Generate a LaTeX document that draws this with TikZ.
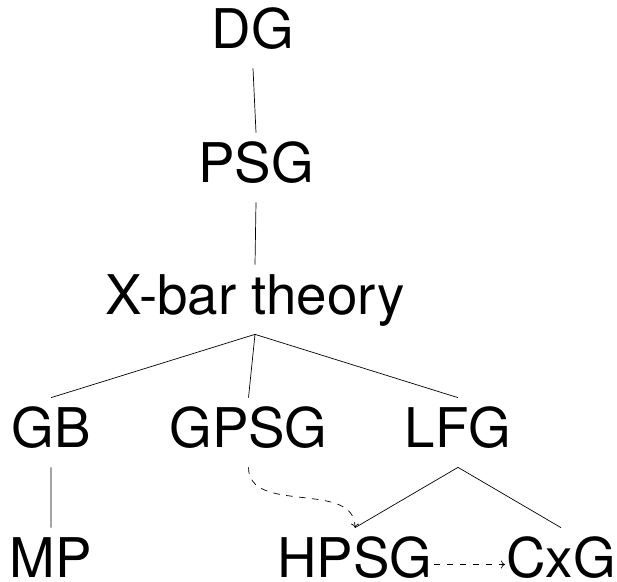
\documentclass[tikz,border=0pt]{standalone}
\usepackage{fontspec}
\setmainfont{TeX Gyre Heros}
\usetikzlibrary{arrows.meta}
\tikzset{>={To[length=4pt, width=8pt]},
every node/.style={font=\fontsize{54.7}{60}\selectfont, anchor=base,
  inner sep=0pt, inner xsep=1pt, text height=49pt, text depth=20pt},
leaf/.style={text depth=0pt},
link/.style={->, dash pattern=on 6.5pt off 6.5pt},
}

\begin{document}
\begin{tikzpicture}[line width=0.7pt]
    \useasboundingbox (-253pt,48pt) rectangle (364pt,-533pt);
    \node (DG) {DG};
    \node[yshift=-134pt, xshift=3pt] (PSG) {PSG};
    \node[yshift=-266pt, xshift=2pt] (XB) {X-bar theory};
    \node[yshift=-399pt, xshift=-202pt] (GB) {GB};
    \node[yshift=-399pt, xshift=-4.5pt] (GPSG) {GPSG};
    \node[yshift=-399pt, xshift=205pt] (LFG) {LFG};
    \node[leaf, yshift=-529pt, xshift=-202pt] (MP) {MP};
    \node[leaf, yshift=-529pt, xshift=102pt] (HPSG) {HPSG};
    \node[leaf, yshift=-529pt, xshift=308pt] (CxG) {CxG};
    \draw
        (DG.south) -- (PSG.north)
        (PSG.south) -- (XB.north)
        (XB.south) -- (GB.north)
        (XB.south) -- (GPSG.north)
        (XB.south) -- (LFG.north)
        (GB.south) -- (MP.north)
        (LFG.south) -- (HPSG.north)
        (LFG.south) -- (CxG.north)
    ;
    \draw[link] (GPSG.south) to[out=-90, in=90] (HPSG.north);
    \draw[link] ([yshift=-12pt]HPSG.east) -- ([yshift=-12pt]CxG.west);
\end{tikzpicture}
\end{document}
